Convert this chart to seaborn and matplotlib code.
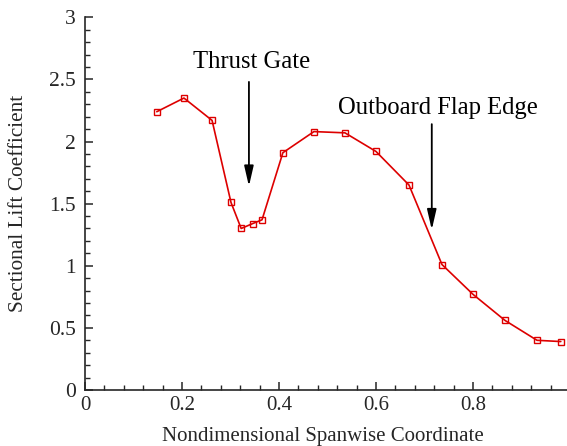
import matplotlib
matplotlib.use("Agg")
import matplotlib.pyplot as plt
import seaborn as sns
import pandas as pd
from matplotlib.ticker import MultipleLocator, FuncFormatter

span = [0.148, 0.204, 0.262, 0.301, 0.322, 0.346, 0.365, 0.408, 0.472,
        0.536, 0.600, 0.668, 0.736, 0.800, 0.866, 0.932, 0.981]
cl = [2.24, 2.35, 2.17, 1.51, 1.30, 1.34, 1.37, 1.91, 2.08,
      2.07, 1.92, 1.65, 1.01, 0.77, 0.56, 0.40, 0.39]

annotations = ["Thrust Gate", "Outboard Flap Edge"]
annot_x = [0.338, 0.715]
annot_tip = [1.64, 1.29]
annot_tail = [2.48, 2.14]
annot_text_y = [2.59, 2.225]
annot_text_x = [0.343, 0.727]

sns.set_style("ticks")
plt.rcParams["font.family"] = ["Liberation Serif", "DejaVu Serif"]
plt.rcParams["mathtext.fontset"] = "stix"

fig = plt.figure(figsize=(5.67, 4.46), dpi=100)
ax = fig.add_axes([85/567, (446-390)/446, 485/567, (390-17.3)/446])

df = pd.DataFrame({"x": span, "y": cl})
sns.lineplot(data=df, x="x", y="y", ax=ax, sort=False, color="#dd0000",
             linewidth=1.2, marker="s", markersize=5, markerfacecolor="none",
             markeredgecolor="#dd0000", markeredgewidth=1.0)

for label, ax_x, tip, tail, ty, tx in zip(annotations, annot_x, annot_tip,
                                           annot_tail, annot_text_y, annot_text_x):
    ax.annotate("", xy=(ax_x, tip), xytext=(ax_x, tail),
                arrowprops=dict(arrowstyle="-|>,head_length=0.87,head_width=0.2",
                                color="black", lw=1.3, mutation_scale=14,
                                shrinkA=0, shrinkB=0))
    ax.text(tx, ty, label, ha="center", va="baseline", fontsize=17.7, color="black")

ax.set_xlim(0, 1)
ax.set_ylim(0, 3)
ax.xaxis.set_major_locator(MultipleLocator(0.2))
ax.xaxis.set_minor_locator(MultipleLocator(0.04))
ax.yaxis.set_major_locator(MultipleLocator(0.5))
ax.yaxis.set_minor_locator(MultipleLocator(0.1))
fmt = FuncFormatter(lambda v, p: f"{v:g}")
ax.xaxis.set_major_formatter(fmt)
ax.yaxis.set_major_formatter(fmt)
ax.tick_params(which="major", direction="in", length=6, width=1.1)
ax.tick_params(which="minor", direction="in", length=3.5, width=1.0)
ax.tick_params(axis="x", which="major", labelsize=15, pad=4)
ax.tick_params(axis="y", which="major", labelsize=15.5, pad=6.5)
for s in ["top", "right"]:
    ax.spines[s].set_visible(False)
for s in ["left", "bottom"]:
    ax.spines[s].set_linewidth(1.2)
ax.set_xlabel("Nondimensional Spanwise Coordinate", fontsize=15)
ax.set_ylabel("Sectional Lift Coefficient", fontsize=15.3)
ax.xaxis.label.set_verticalalignment("baseline")
ax.xaxis.set_label_coords(0.49, -(441 - 390) / (390 - 17.3))
ax.yaxis.set_label_coords(-(85 - 28) / 485, 0.5)

fig.savefig("out.png", dpi=100)
